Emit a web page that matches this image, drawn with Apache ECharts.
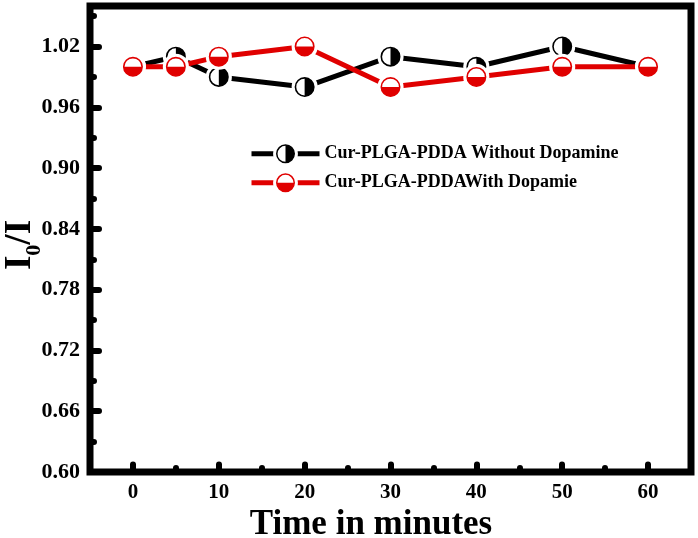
<!DOCTYPE html>
<html>
<head>
<meta charset="utf-8">
<script src="https://cdn.jsdelivr.net/npm/echarts@6/dist/echarts.min.js"></script>
<style>
html,body{margin:0;padding:0;background:#fff;}
#chart{width:698px;height:538px;}
</style>
</head>
<body>
<div id="chart"></div>
<script>
const times = [0, 5, 10, 20, 30, 40, 50, 60];
const withoutDopamine = [1.00, 1.01, 0.99, 0.98, 1.01, 1.00, 1.02, 1.00];
const withDopamine = [1.00, 1.00, 1.01, 1.02, 0.98, 0.99, 1.00, 1.00];
const seriesNames = ['Cur-PLGA-PDDA Without Dopamine', 'Cur-PLGA-PDDAWith Dopamie'];
const xTitle = 'Time in minutes';

const FONT = "'Liberation Serif', 'Times New Roman', serif";
const BLACK = '#000000';
const RED = '#e00000';

function svgSymbol(inner) {
  const svg = "<svg xmlns='http://www.w3.org/2000/svg' width='54' height='54' viewBox='0 0 27 27'>" +
    "<circle cx='13.5' cy='13.5' r='13.1' fill='white'/>" + inner + "</svg>";
  return 'image://data:image/svg+xml;charset=utf-8,' + encodeURIComponent(svg);
}
const blackSymbol = svgSymbol(
  "<circle cx='13.5' cy='13.5' r='9.2' fill='white' stroke='" + BLACK + "' stroke-width='1.6'/>" +
  "<path d='M13.5 4.3 A9.2 9.2 0 0 1 13.5 22.7 Z' fill='" + BLACK + "'/>"
);
const redSymbol = svgSymbol(
  "<circle cx='13.5' cy='13.5' r='9.2' fill='white' stroke='" + RED + "' stroke-width='1.6'/>" +
  "<path d='M4.3 13.5 A9.2 9.2 0 0 0 22.7 13.5 Z' fill='" + RED + "'/>"
);

const chart = echarts.init(document.getElementById('chart'), null, {renderer: 'canvas'});

function isMultiple(v, step) {
  return Math.abs(Math.round(v / step) * step - v) < 1e-6;
}

const legendCommon = {
  orient: 'vertical',
  left: 244,
  itemWidth: 68,
  itemHeight: 32,
  itemGap: 0,
  lineStyle: {width: 5},
  textStyle: {fontFamily: FONT, fontWeight: 'bold', fontSize: 18, color: '#000'},
  selectedMode: false
};

const option = {
  animation: false,
  backgroundColor: '#fff',
  grid: {
    left: 90, right: 7, top: 6, bottom: 66,
    outerBoundsMode: 'none',
    containLabel: false,
    show: true, borderColor: '#000', borderWidth: 7, backgroundColor: 'transparent'
  },
  legend: [
    Object.assign({top: 136, data: [seriesNames[0]]}, legendCommon),
    Object.assign({top: 165, data: [seriesNames[1]]}, legendCommon)
  ],
  xAxis: [
    {
      type: 'value', min: -5, max: 65, interval: 10,
      axisLine: {show: false, onZero: false},
      axisTick: {show: true, inside: true, length: 4, lineStyle: {color: '#000', width: 6, cap: 'round'}},
      minorTick: {show: true, splitNumber: 2, length: 7.5, lineStyle: {color: '#000', width: 6, cap: 'round'}},
      axisLabel: {show: false},
      splitLine: {show: false},
      minorSplitLine: {show: false}
    },
    {
      type: 'value', min: -5, max: 65, interval: 5, position: 'bottom',
      axisLine: {show: false, onZero: false},
      axisTick: {show: false},
      splitLine: {show: false},
      axisLabel: {
        margin: 10,
        fontFamily: FONT, fontWeight: 'bold', fontSize: 21, color: '#000',
        formatter: function (v) { return (isMultiple(v, 10) && v >= 0 && v <= 60) ? String(v) : ''; }
      },
      name: xTitle,
      nameLocation: 'middle',
      nameGap: 35,
      nameMoveOverlap: false,
      nameTextStyle: {fontFamily: FONT, fontWeight: 'bold', fontSize: 35, color: '#000', padding: [0, 39, 0, 0]}
    }
  ],
  yAxis: {
    type: 'value', min: 0.60, max: 1.06, interval: 0.06,
    axisLine: {show: false, onZero: false},
    axisTick: {show: true, inside: true, length: 9, lineStyle: {color: '#000', width: 6, cap: 'round'}},
    minorTick: {show: true, splitNumber: 2, length: 4, lineStyle: {color: '#000', width: 6, cap: 'round'}},
    splitLine: {show: false},
    minorSplitLine: {show: false},
    axisLabel: {
      margin: 10, showMaxLabel: false,
      fontFamily: FONT, fontWeight: 'bold', fontSize: 22, color: '#000',
      formatter: function (v) { return (isMultiple(v, 0.06) && v <= 1.0201) ? v.toFixed(2) : ''; }
    },
    name: '{a|I}{b|0}{a|/I}',
    nameLocation: 'middle',
    nameRotate: 90,
    nameGap: 51,
    nameMoveOverlap: false,
    nameTextStyle: {
      color: '#000',
      padding: [0, 12, 0, 0],
      rich: {
        a: {fontFamily: FONT, fontWeight: 'bold', fontSize: 37, color: '#000'},
        b: {fontFamily: FONT, fontWeight: 'bold', fontSize: 22, color: '#000', verticalAlign: 'bottom', padding: [0, 0, -6, 0]}
      }
    }
  },
  series: [
    {
      name: seriesNames[0],
      type: 'line',
      xAxisIndex: 0,
      data: times.map((t, i) => [t, withoutDopamine[i]]),
      symbol: blackSymbol,
      symbolSize: 27,
      lineStyle: {color: BLACK, width: 5},
      itemStyle: {color: BLACK},
      emphasis: {disabled: true},
      z: 2
    },
    {
      name: seriesNames[1],
      type: 'line',
      xAxisIndex: 0,
      data: times.map((t, i) => [t, withDopamine[i]]),
      symbol: redSymbol,
      symbolSize: 27,
      lineStyle: {color: RED, width: 5},
      itemStyle: {color: RED},
      emphasis: {disabled: true},
      z: 3
    }
  ]
};
chart.setOption(option);
</script>
</body>
</html>
